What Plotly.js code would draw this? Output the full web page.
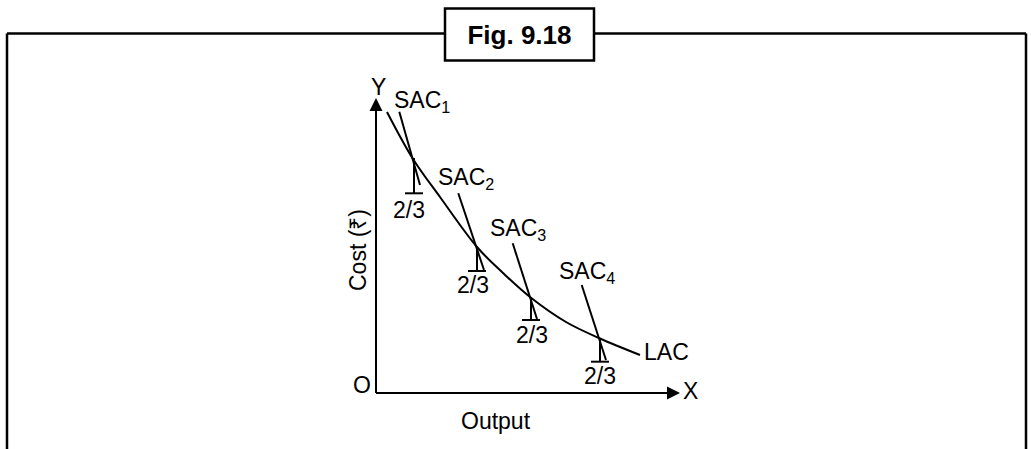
<!DOCTYPE html>
<html>
<head>
<meta charset="utf-8">
<script src="https://cdn.plot.ly/plotly-3.0.1.min.js"></script>
<style>html,body{margin:0;padding:0;background:#fff;}#chart{width:1031px;height:449px;}</style>
</head>
<body>
<div id="chart"></div>
<script>
// ---- data (output units on x, cost units on y; origin O at 0,0) ----
const lacX = [1.1, 3.7, 6.4, 10.1, 12.7, 15.4, 19.0, 22.4, 26.4];
const lacY = [28.1, 23.4, 19.6, 14.6, 12.0, 9.6, 7.1, 5.45, 3.8];

const sacNames  = ['SAC<sub>1</sub>', 'SAC<sub>2</sub>', 'SAC<sub>3</sub>', 'SAC<sub>4</sub>'];
const sacStartX = [2.33, 8.23, 13.67, 20.57];
const sacStartY = [28.13, 19.97, 14.97, 10.8];
const sacEndX   = [4.4, 10.8, 16.1, 23.0];
const sacEndY   = [20.8, 12.3, 7.4, 3.3];
const sacLabelX = [1.6, 6.0, 11.2, 18.1];
const sacLabelY = [29.15, 21.5, 16.35, 12.05];

const tickX       = [3.8, 10.1, 15.5, 22.4];
const tickTopY    = [23.5, 14.6, 9.6, 5.5];
const tickBottomY = [19.97, 12.2, 7.3, 3.13];
const tickCapHalf = 0.9;
const ratioLabels = ['2/3', '2/3', '2/3', '2/3'];
const ratioLabelX = [3.3, 9.65, 15.6, 22.4];
const ratioLabelY = [18.3, 10.8, 5.8, 1.7];

const xAxisEnd = 30.4, yAxisEnd = 29.5;
const axisLabels = {x: 'X', y: 'Y', origin: 'O', xTitle: 'Output', yTitle: 'Cost (₹)', curve: 'LAC'};
const figTitle = 'Fig. 9.18';

// ---- build ----
const W = 1031, H = 449;
const FONT = 'Liberation Sans, Arial, Helvetica, sans-serif';
const px = v => v / W, py = v => 1 - v / H;

const traces = [];
traces.push({x: lacX, y: lacY, mode: 'lines', line: {color: '#000', width: 2, shape: 'spline', smoothing: 1}, hoverinfo: 'skip'});

const sx = [], sy = [];
sacStartX.forEach((v, i) => { sx.push(v, sacEndX[i], null); sy.push(sacStartY[i], sacEndY[i], null); });
traces.push({x: sx, y: sy, mode: 'lines', line: {color: '#000', width: 2}, hoverinfo: 'skip'});

const tx = [], ty = [];
tickX.forEach((v, i) => {
  tx.push(v, v, null, v - tickCapHalf, v + tickCapHalf, null);
  ty.push(tickTopY[i], tickBottomY[i], null, tickBottomY[i], tickBottomY[i], null);
});
traces.push({x: tx, y: ty, mode: 'lines', line: {color: '#000', width: 2}, hoverinfo: 'skip'});

// axes with arrowheads
traces.push({x: [0, 0, null, 0, xAxisEnd - 0.5], y: [yAxisEnd - 0.5, 0, null, 0, 0], mode: 'lines', line: {color: '#000', width: 2}, hoverinfo: 'skip'});
traces.push({x: [0, xAxisEnd], y: [yAxisEnd, 0], mode: 'markers', marker: {symbol: ['arrow-up', 'arrow-right'], size: 13, color: '#000', line: {width: 0}}, hoverinfo: 'skip'});

const txtFont = {family: FONT, size: 23, color: '#000'};
const ann = [];
sacNames.forEach((t, i) => ann.push({x: sacLabelX[i], y: sacLabelY[i], text: t, showarrow: false, xanchor: 'left', yanchor: 'middle', font: txtFont}));
ratioLabels.forEach((t, i) => ann.push({x: ratioLabelX[i], y: ratioLabelY[i], text: t, showarrow: false, xanchor: 'center', yanchor: 'middle', font: txtFont}));
ann.push({x: lacX[lacX.length - 1] + 0.2, y: 4.15, text: axisLabels.curve, showarrow: false, xanchor: 'left', yanchor: 'middle', font: txtFont});
ann.push({x: 0.2, y: 30.6, text: axisLabels.y, showarrow: false, xanchor: 'center', yanchor: 'middle', font: txtFont});
ann.push({x: 31.45, y: 0.2, text: axisLabels.x, showarrow: false, xanchor: 'center', yanchor: 'middle', font: txtFont});
ann.push({x: -1.45, y: 0.85, text: axisLabels.origin, showarrow: false, xanchor: 'center', yanchor: 'middle', font: txtFont});
ann.push({x: 12.0, y: -2.8, text: axisLabels.xTitle, showarrow: false, xanchor: 'center', yanchor: 'middle', font: txtFont});
ann.push({x: -1.8, y: 14.3, text: axisLabels.yTitle, textangle: -90, showarrow: false, xanchor: 'center', yanchor: 'middle', font: txtFont});

const ln = {color: '#000', width: 2.5};
const shapes = [
  {type: 'line', xref: 'paper', yref: 'paper', x0: px(7), y0: py(33.5), x1: px(445), y1: py(33.5), line: ln},
  {type: 'line', xref: 'paper', yref: 'paper', x0: px(594), y0: py(33.5), x1: px(1026), y1: py(33.5), line: ln},
  {type: 'line', xref: 'paper', yref: 'paper', x0: px(7), y0: py(33.5), x1: px(7), y1: py(449), line: ln},
  {type: 'line', xref: 'paper', yref: 'paper', x0: px(1026), y0: py(33.5), x1: px(1026), y1: py(449), line: ln},
  {type: 'rect', xref: 'paper', yref: 'paper', x0: px(445), y0: py(8.5), x1: px(594), y1: py(60.5), line: ln, fillcolor: '#fff'}
];

const layout = {
  width: W, height: H,
  margin: {l: 0, r: 0, t: 0, b: 0},
  paper_bgcolor: '#fff', plot_bgcolor: '#fff',
  showlegend: false,
  title: {text: '<b>' + figTitle + '</b>', x: px(519.5), xanchor: 'center', y: py(34.5), yanchor: 'middle', font: {family: FONT, size: 26, color: '#000'}},
  xaxis: {visible: false, range: [-37.6, 65.5], fixedrange: true},
  yaxis: {visible: false, range: [-5.6, 39.3], fixedrange: true},
  annotations: ann,
  shapes: shapes
};

Plotly.newPlot('chart', traces, layout, {staticPlot: true, displayModeBar: false});
</script>
</body>
</html>
